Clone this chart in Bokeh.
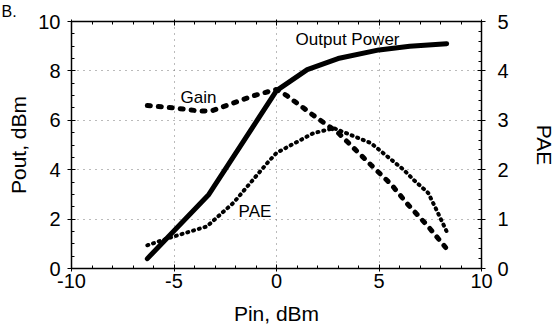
from bokeh.plotting import figure
from bokeh.models import Range1d, LinearAxis, SingleIntervalTicker, Label, CustomJSTickFormatter, Title
from bokeh.embed import file_html
from bokeh.resources import INLINE

# ---- data ----
pout_pin = [-6.3, -3.3, 0.0, 1.5, 3.0, 5.0, 6.5, 8.3]
pout_val = [0.4, 3.0, 7.2, 8.05, 8.5, 8.85, 9.0, 9.1]

gain_pin = [-6.3, -5.0, -3.7, -3.1, -2.1, -1.1, 0.0, 0.5, 1.8, 3.0, 4.6, 5.6, 6.4, 7.4, 8.25]
gain_val = [6.6, 6.5, 6.37, 6.4, 6.7, 7.0, 7.25, 7.0, 6.2, 5.5, 4.2, 3.4, 2.6, 1.7, 0.85]

pae_pin = [-6.3, -5.0, -3.4, -2.1, -0.4, 0.0, 1.8, 2.8, 4.6, 6.2, 6.7, 7.4, 7.8, 8.3]
pae_val = [0.47, 0.65, 0.85, 1.33, 2.16, 2.34, 2.74, 2.84, 2.54, 2.0, 1.79, 1.53, 1.19, 0.75]

x_tick_labels = {-10: "-10", -5: "-5", 0: "0", 5: "5", 10: "10"}

FONT = "Liberation Sans"

p = figure(width=559, height=327, x_range=Range1d(-10, 10), y_range=Range1d(0, 10),
           output_backend="svg", toolbar_location=None,
           min_border_left=71, min_border_right=78, min_border_top=21, min_border_bottom=58,
           x_axis_label="Pin, dBm", y_axis_label="Pout, dBm")
p.extra_y_ranges = {"pae": Range1d(0, 5)}
p.outline_line_color = "black"
p.background_fill_color = "white"
p.border_fill_color = "white"

bottom = p.below[0]
left = p.left[0]
right = LinearAxis(y_range_name="pae", axis_label="PAE")
p.add_layout(right, "right")
top = LinearAxis(formatter=CustomJSTickFormatter(code="return ''"))
p.add_layout(top, "above")
p.add_layout(Title(text="B.", align="left", offset=-70, standoff=0, text_font=FONT,
                   text_font_size="16px", text_font_style="normal", text_color="black"), "above")

bottom.ticker = SingleIntervalTicker(interval=5, num_minor_ticks=5)
top.ticker = SingleIntervalTicker(interval=5, num_minor_ticks=5)
left.ticker = SingleIntervalTicker(interval=2, num_minor_ticks=4)
right.ticker = SingleIntervalTicker(interval=1, num_minor_ticks=5)
bottom.major_label_overrides = x_tick_labels

for ax in [bottom, left, right, top]:
    ax.axis_line_color = "black"
    ax.axis_line_width = 1.5
    ax.major_tick_line_color = "black"
    ax.minor_tick_line_color = "black"
    ax.major_tick_in = 4
    ax.major_tick_out = 4
    ax.minor_tick_in = 3
    ax.minor_tick_out = 0
    ax.major_label_text_font = FONT
    ax.major_label_text_font_size = "20px"
    ax.major_label_text_color = "black"
    ax.axis_label_text_font = FONT
    ax.axis_label_text_font_size = "21px"
    ax.axis_label_text_font_style = "normal"
    ax.axis_label_text_color = "black"

top.major_label_standoff = 0
top.major_tick_out = 2
left.major_label_standoff = 7
left.axis_label_standoff = 5
right.major_label_standoff = 12
right.axis_label_standoff = 21
bottom.major_tick_out = 3
bottom.major_label_standoff = 2
bottom.axis_label_standoff = 11

p.xgrid.ticker = SingleIntervalTicker(interval=5)
p.ygrid.ticker = SingleIntervalTicker(interval=2)
for g in [p.xgrid[0], p.ygrid[0]]:
    g.grid_line_color = "#777777"
    g.grid_line_dash = "1 5"
    g.grid_line_width = 1

p.line(pout_pin, pout_val, line_color="black", line_width=5, line_cap="round", line_join="round")
p.line(gain_pin, gain_val, line_color="black", line_width=5, line_dash="3 8", line_cap="round")
p.line(pae_pin, pae_val, y_range_name="pae", line_color="black", line_width=4, line_dash="1 5", line_cap="round")

lab_kw = dict(text_font=FONT, text_font_size="17px", text_color="black", text_baseline="alphabetic", text_align="left")
p.add_layout(Label(x=0.93, y=9.27, text="Output Power", **lab_kw))
p.add_layout(Label(x=-4.68, y=6.94, text="Gain", **lab_kw))
p.add_layout(Label(x=-1.85, y=2.3, text="PAE", **lab_kw))

open("out.html", "w").write(file_html(p, INLINE))
